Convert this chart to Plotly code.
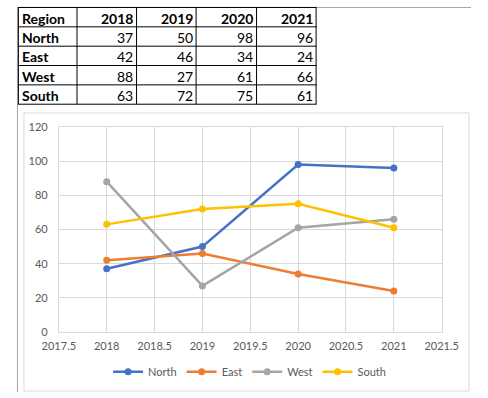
import plotly.graph_objects as go

years = [2018, 2019, 2020, 2021]
regions = ["North", "East", "West", "South"]
north = [37, 50, 98, 96]
east = [42, 46, 34, 24]
west = [88, 27, 61, 66]
south = [63, 72, 75, 61]
series = [north, east, west, south]
colors = ["#4472C4", "#ED7D31", "#A5A5A5", "#FFC000"]

W, H = 488, 398
FONT = "Lato, Carlito, Calibri, sans-serif"


def px(x):
    return x / W


def py(y):
    return 1 - y / H


fig = go.Figure()
for name, vals, c in zip(regions, series, colors):
    fig.add_trace(go.Scatter(
        x=years, y=vals, name=name, mode="lines+markers",
        line=dict(color=c, width=2.5),
        marker=dict(color=c, size=7),
    ))

shapes = []
annotations = []

# sheet edges (gray)
shapes.append(dict(type="line", xref="paper", yref="paper", x0=0, x1=1,
                   y0=py(0.5), y1=py(0.5), line=dict(color="#a6a6a6", width=1)))
shapes.append(dict(type="line", xref="paper", yref="paper", x0=px(0.5), x1=px(0.5),
                   y0=0, y1=1, line=dict(color="#a6a6a6", width=1)))

# table grid
col_edges = [1, 64, 128, 192, 257, 321]
row_edges = [0.5, 20.5, 40.5, 60.5, 80.5, 100.5]
for xe in col_edges:
    shapes.append(dict(type="line", xref="paper", yref="paper",
                       x0=px(xe + 0.5), x1=px(xe + 0.5),
                       y0=py(row_edges[0]), y1=py(row_edges[-1]),
                       line=dict(color="black", width=1)))
for ye in row_edges:
    shapes.append(dict(type="line", xref="paper", yref="paper",
                       x0=px(col_edges[0]), x1=px(col_edges[-1] + 1),
                       y0=py(ye), y1=py(ye),
                       line=dict(color="black", width=1)))

header = ["Region"] + [str(y) for y in years]
rows = [header] + [[r] + [str(v) for v in vals] for r, vals in zip(regions, series)]
for ri, row in enumerate(rows):
    yc = (row_edges[ri] + row_edges[ri + 1]) / 2 + 1
    for ci, txt in enumerate(row):
        bold = ri == 0 or ci == 0
        if ci == 0:
            xpos, anchor = col_edges[0] + 2, "left"
        else:
            xpos, anchor = col_edges[ci + 1] - 1, "right"
        annotations.append(dict(
            xref="paper", yref="paper", x=px(xpos), y=py(yc),
            xanchor=anchor, yanchor="middle", showarrow=False,
            text=f"<b>{txt}</b>" if bold else txt,
            font=dict(family=FONT, size=14, color="black"),
        ))

# chart area border
shapes.append(dict(type="rect", xref="paper", yref="paper",
                   x0=px(7.5), x1=px(486), y0=py(109.5), y1=py(397),
                   line=dict(color="#d9d9d9", width=1), layer="below"))

axis_common = dict(
    showgrid=True, gridcolor="#d9d9d9", gridwidth=1,
    showline=True, linecolor="#d9d9d9", linewidth=1, mirror=True,
    zeroline=False, ticks="",
    tickfont=dict(family=FONT, size=11, color="#595959"),
)

fig.update_layout(
    width=W, height=H,
    margin=dict(l=0, r=0, t=0, b=0),
    paper_bgcolor="white", plot_bgcolor="white",
    xaxis=dict(domain=[px(45), px(456.5)], range=[2017.5, 2021.5],
               tickvals=[2017.5, 2018, 2018.5, 2019, 2019.5, 2020, 2020.5, 2021, 2021.5],
               ticktext=["2017.5", "2018", "2018.5", "2019", "2019.5", "2020", "2020.5", "2021", "2021.5"],
               ticklabelstandoff=4, **axis_common),
    yaxis=dict(domain=[py(336), py(124)], range=[0, 120], dtick=20,
               ticklabelstandoff=8, **axis_common),
    legend=dict(orientation="h", x=px(250), xanchor="center", y=py(377), yanchor="middle",
                font=dict(family=FONT, size=11, color="#595959"),
                itemwidth=30, bgcolor="rgba(0,0,0,0)"),
    shapes=shapes,
    annotations=annotations,
    showlegend=True,
)

fig.write_html("out.html",
               config={"displayModeBar": False},
               post_script="document.body.style.margin='0';document.body.style.overflow='hidden';")
